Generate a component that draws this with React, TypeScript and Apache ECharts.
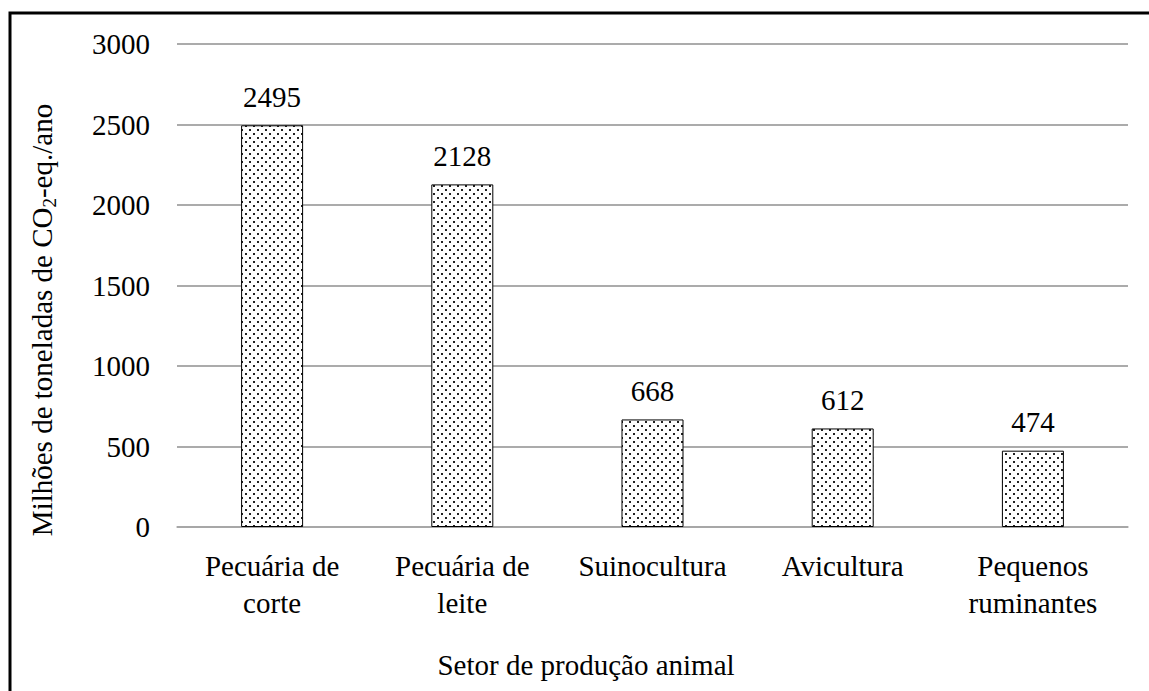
import React, { useEffect, useRef } from "react";
import * as echarts from "echarts";

const categories = ["Pecuária de\ncorte", "Pecuária de\nleite", "Suinocultura", "Avicultura", "Pequenos\nruminantes"];
const values = [2495, 2128, 668, 612, 474];
const yTicks = { min: 0, max: 3000, interval: 500 };
const yTitleMain = "Milhões de toneladas de CO";
const yTitleSub = "2";
const yTitleEnd = "-eq./ano";
const xTitle = "Setor de produção animal";

const FONT = "Liberation Serif";
const FS = 29;

function makePattern(): string {
  const c = document.createElement("canvas");
  c.width = 8;
  c.height = 8;
  const ctx = c.getContext("2d")!;
  ctx.fillStyle = "#ffffff";
  ctx.fillRect(0, 0, 8, 8);
  ctx.fillStyle = "#222222";
  ctx.fillRect(1, 1, 2, 2);
  ctx.fillRect(5, 5, 2, 2);
  return c.toDataURL();
}

export default function App() {
  const ref = useRef<HTMLDivElement>(null);
  useEffect(() => {
    if (!ref.current) return;
    const chart = echarts.init(ref.current, undefined, { renderer: "svg" });
    const pat = makePattern();
    chart.setOption({
      animation: false,
      backgroundColor: "#ffffff",
      textStyle: { fontFamily: FONT },
      grid: { left: 177, right: 21, top: 44, bottom: 164 },
      xAxis: {
        type: "category",
        data: categories,
        axisLine: { show: true, lineStyle: { color: "#a6a6a6", width: 1.5 } },
        axisTick: { show: false },
        axisLabel: {
          color: "#000",
          fontFamily: FONT,
          fontSize: FS,
          lineHeight: 37,
          margin: 20,
          interval: 0,
        },
      },
      yAxis: {
        type: "value",
        min: yTicks.min,
        max: yTicks.max,
        interval: yTicks.interval,
        axisLine: { show: false },
        axisTick: { show: false },
        splitLine: { lineStyle: { color: "#8f8f8f", width: 1.5 } },
        axisLabel: {
          color: "#000",
          fontFamily: FONT,
          fontSize: FS,
          margin: 27,
          formatter: (v: number) => String(v),
        },
      },
      series: [
        {
          type: "bar",
          data: values,
          barWidth: "32.6%",
          itemStyle: {
            color: { image: pat, repeat: "repeat" } as any,
            borderColor: "#000",
            borderWidth: 1,
          },
          label: {
            show: true,
            position: "top",
            distance: 14,
            color: "#000",
            fontFamily: FONT,
            fontSize: FS,
          },
        },
      ],
      graphic: [
        {
          type: "rect",
          shape: { x: 10, y: 13, width: 1200, height: 800 },
          style: { fill: "none", stroke: "#000", lineWidth: 3 },
          silent: true,
        },
        {
          type: "text",
          x: 586,
          y: 665,
          style: {
            text: xTitle,
            fontFamily: FONT,
            fontSize: FS,
            fill: "#000",
            align: "center",
            verticalAlign: "middle",
          },
        },
        {
          type: "text",
          x: 42,
          y: 320,
          rotation: Math.PI / 2,
          style: {
            text: `{m|${yTitleMain}}{s|${yTitleSub}}{m|${yTitleEnd}}`,
            align: "center",
            verticalAlign: "middle",
            fill: "#000",
            fontFamily: FONT,
            rich: {
              m: { fontFamily: FONT, fontSize: FS, lineHeight: 34, fill: "#000", verticalAlign: "middle" },
              s: { fontFamily: FONT, fontSize: 19, lineHeight: 34, fill: "#000", verticalAlign: "bottom", padding: [10, 0, 0, 0] },
            },
          },
        },
      ],
    });
    return () => chart.dispose();
  }, []);
  return (
    <div
      ref={ref}
      style={{ position: "absolute", left: 0, top: 0, width: 1149, height: 691 }}
    />
  );
}
